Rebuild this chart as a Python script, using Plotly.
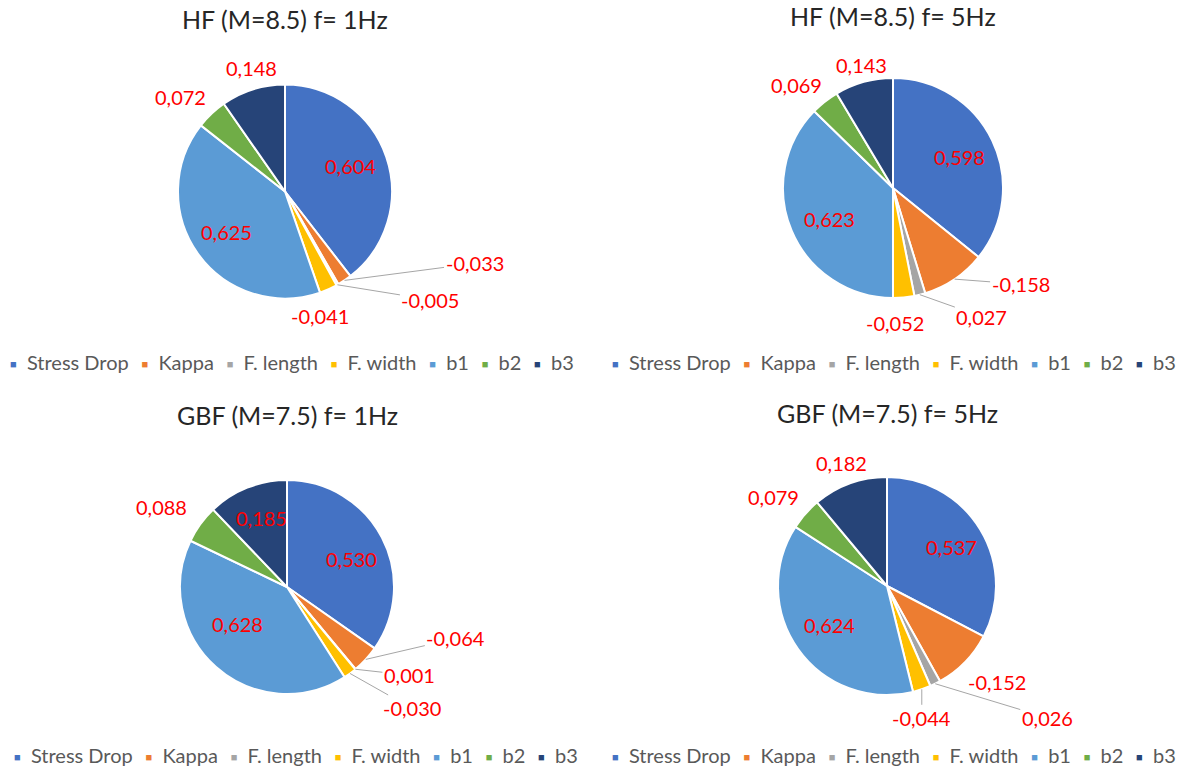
import math
import plotly.graph_objects as go

# Parameters (legend order) and slice colours
params = ["Stress Drop", "Kappa", "F. length", "F. width", "b1", "b2", "b3"]
colors = ["#4472C4", "#ED7D31", "#A5A5A5", "#FFC000", "#5B9BD5", "#70AD47", "#264478"]

# Signed sensitivity values per case (slices are sized by magnitude)
titles = ["HF (M=8.5) f= 1Hz", "HF (M=8.5) f= 5Hz", "GBF (M=7.5) f= 1Hz", "GBF (M=7.5) f= 5Hz"]
hf_1hz = [0.604, -0.033, -0.005, -0.041, 0.625, 0.072, 0.148]
hf_5hz = [0.598, -0.158, 0.027, -0.052, 0.623, 0.069, 0.143]
gbf_1hz = [0.530, -0.064, 0.001, -0.030, 0.628, 0.088, 0.185]
gbf_5hz = [0.537, -0.152, 0.026, -0.044, 0.624, 0.079, 0.182]
cases = [hf_1hz, hf_5hz, gbf_1hz, gbf_5hz]

W, H = 1192, 771

# Panel geometry in pixels: pie centre, radius, title y, legend left x / y
panels = [
    dict(cx=285, cy=191.5, r=107, ty=19, lx=8, ly=362),
    dict(cx=893, cy=188, r=110, ty=16, lx=610, ly=362),
    dict(cx=287, cy=587, r=107, ty=415, lx=12, ly=755),
    dict(cx=887, cy=586, r=109, ty=413, lx=610, ly=755),
]

# Label placement per slice:
#   ("in", (dx, dy))          inside the slice, nudged by dx/dy pixels
#   ("out", (dx, dy, leader)) outside, offset from the slice edge, optional leader line
label_pos = [
    [("in", (0, -3)), ("out", (130, -17, True)), ("out", (93, 15, True)), ("out", (-8, 27, False)),
     ("in", (-2, 0)), ("out", (-31, -17, False)), ("out", (-1, -21, False))],
    [("in", (2, 0)), ("out", (66, 5, True)), ("out", (62, 22, True)), ("out", (-9, 26, False)),
     ("in", (2, 3)), ("out", (-28, -17, False)), ("out", (-2, -17, False))],
    [("in", (3, 4)), ("out", (90, -21, True)), ("out", (54, 6, True)), ("out", (62, 35, True)),
     ("in", (-3, -15)), ("out", (-39, -17, False)), ("in", (0, -4))],
    [("in", (4, -2)), ("out", (32, 20, False)), ("out", (112, 34, True)), ("out", (0, 29, True)),
     ("in", (0, -2)), ("out", (-32, -17, False)), ("out", (-8, -21, False))],
]

FONT = "Lato, 'Open Sans', sans-serif"
LABEL_RED = "#FF0000"
NBSP = "\u00a0"


def fmt(v):
    return f"{v:.3f}".replace(".", ",")


def legend_text():
    items = []
    for name, c in zip(params, colors):
        items.append(
            f"<span style='color:{c};font-size:11px;baseline-shift:2px'>\u25A0</span>"
            f"{NBSP * 2}{name}")
    return (NBSP * 2 + "\u2009").join(items)


fig = go.Figure()
annotations = []

for k, (vals, title, pn) in enumerate(zip(cases, titles, panels)):
    mags = [abs(v) for v in vals]
    cx, cy, r = pn["cx"], pn["cy"], pn["r"]
    dom_x = [(cx - r) / W, (cx + r) / W]
    dom_y = [1 - (cy + r) / H, 1 - (cy - r) / H]
    fig.add_trace(go.Pie(
        labels=params, values=mags, sort=False, direction="clockwise", rotation=0,
        marker=dict(colors=colors, line=dict(color="white", width=2)),
        textinfo="none", hovertemplate="%{label}: %{customdata}<extra></extra>",
        customdata=[fmt(v) for v in vals],
        domain=dict(x=dom_x, y=dom_y), showlegend=False,
    ))

    # Data labels anchored at each slice's mid-angle
    total = sum(mags)
    cum = 0.0
    for v, m, (kind, off) in zip(vals, mags, label_pos[k]):
        mid = (cum + m / 2) / total * 2 * math.pi
        cum += m
        lab_font = dict(family=FONT, size=20, color=LABEL_RED)
        if kind == "in":
            dx, dy = off
            px = cx + 0.65 * r * math.sin(mid) + dx
            py = cy - 0.65 * r * math.cos(mid) + dy
            annotations.append(dict(
                x=px / W, y=1 - py / H, xref="paper", yref="paper", text=fmt(v),
                xanchor="center", yanchor="middle", showarrow=False, font=lab_font))
        else:
            dx, dy, leader = off
            px = cx + r * math.sin(mid)
            py = cy - r * math.cos(mid)
            annotations.append(dict(
                x=px / W, y=1 - py / H, xref="paper", yref="paper", text=fmt(v),
                xanchor="center", yanchor="middle",
                showarrow=True, ax=dx, ay=dy, arrowhead=0, arrowwidth=1, standoff=0,
                arrowcolor="#A6A6A6" if leader else "rgba(0,0,0,0)", font=lab_font))

    # Panel title
    annotations.append(dict(
        x=cx / W, y=1 - pn["ty"] / H, xref="paper", yref="paper", text=title,
        showarrow=False, xanchor="center", yanchor="middle",
        font=dict(family=FONT, size=25, color="#262626")))

    # Legend row under the pie
    annotations.append(dict(
        x=pn["lx"] / W, y=1 - pn["ly"] / H, xref="paper", yref="paper",
        text=legend_text(), showarrow=False, xanchor="left", yanchor="middle",
        font=dict(family=FONT, size=20, color="#595959")))

fig.update_layout(
    width=W, height=H, margin=dict(l=0, r=0, t=0, b=0),
    paper_bgcolor="white", plot_bgcolor="white", showlegend=False,
    annotations=annotations,
)

fig.write_html("out.html")
